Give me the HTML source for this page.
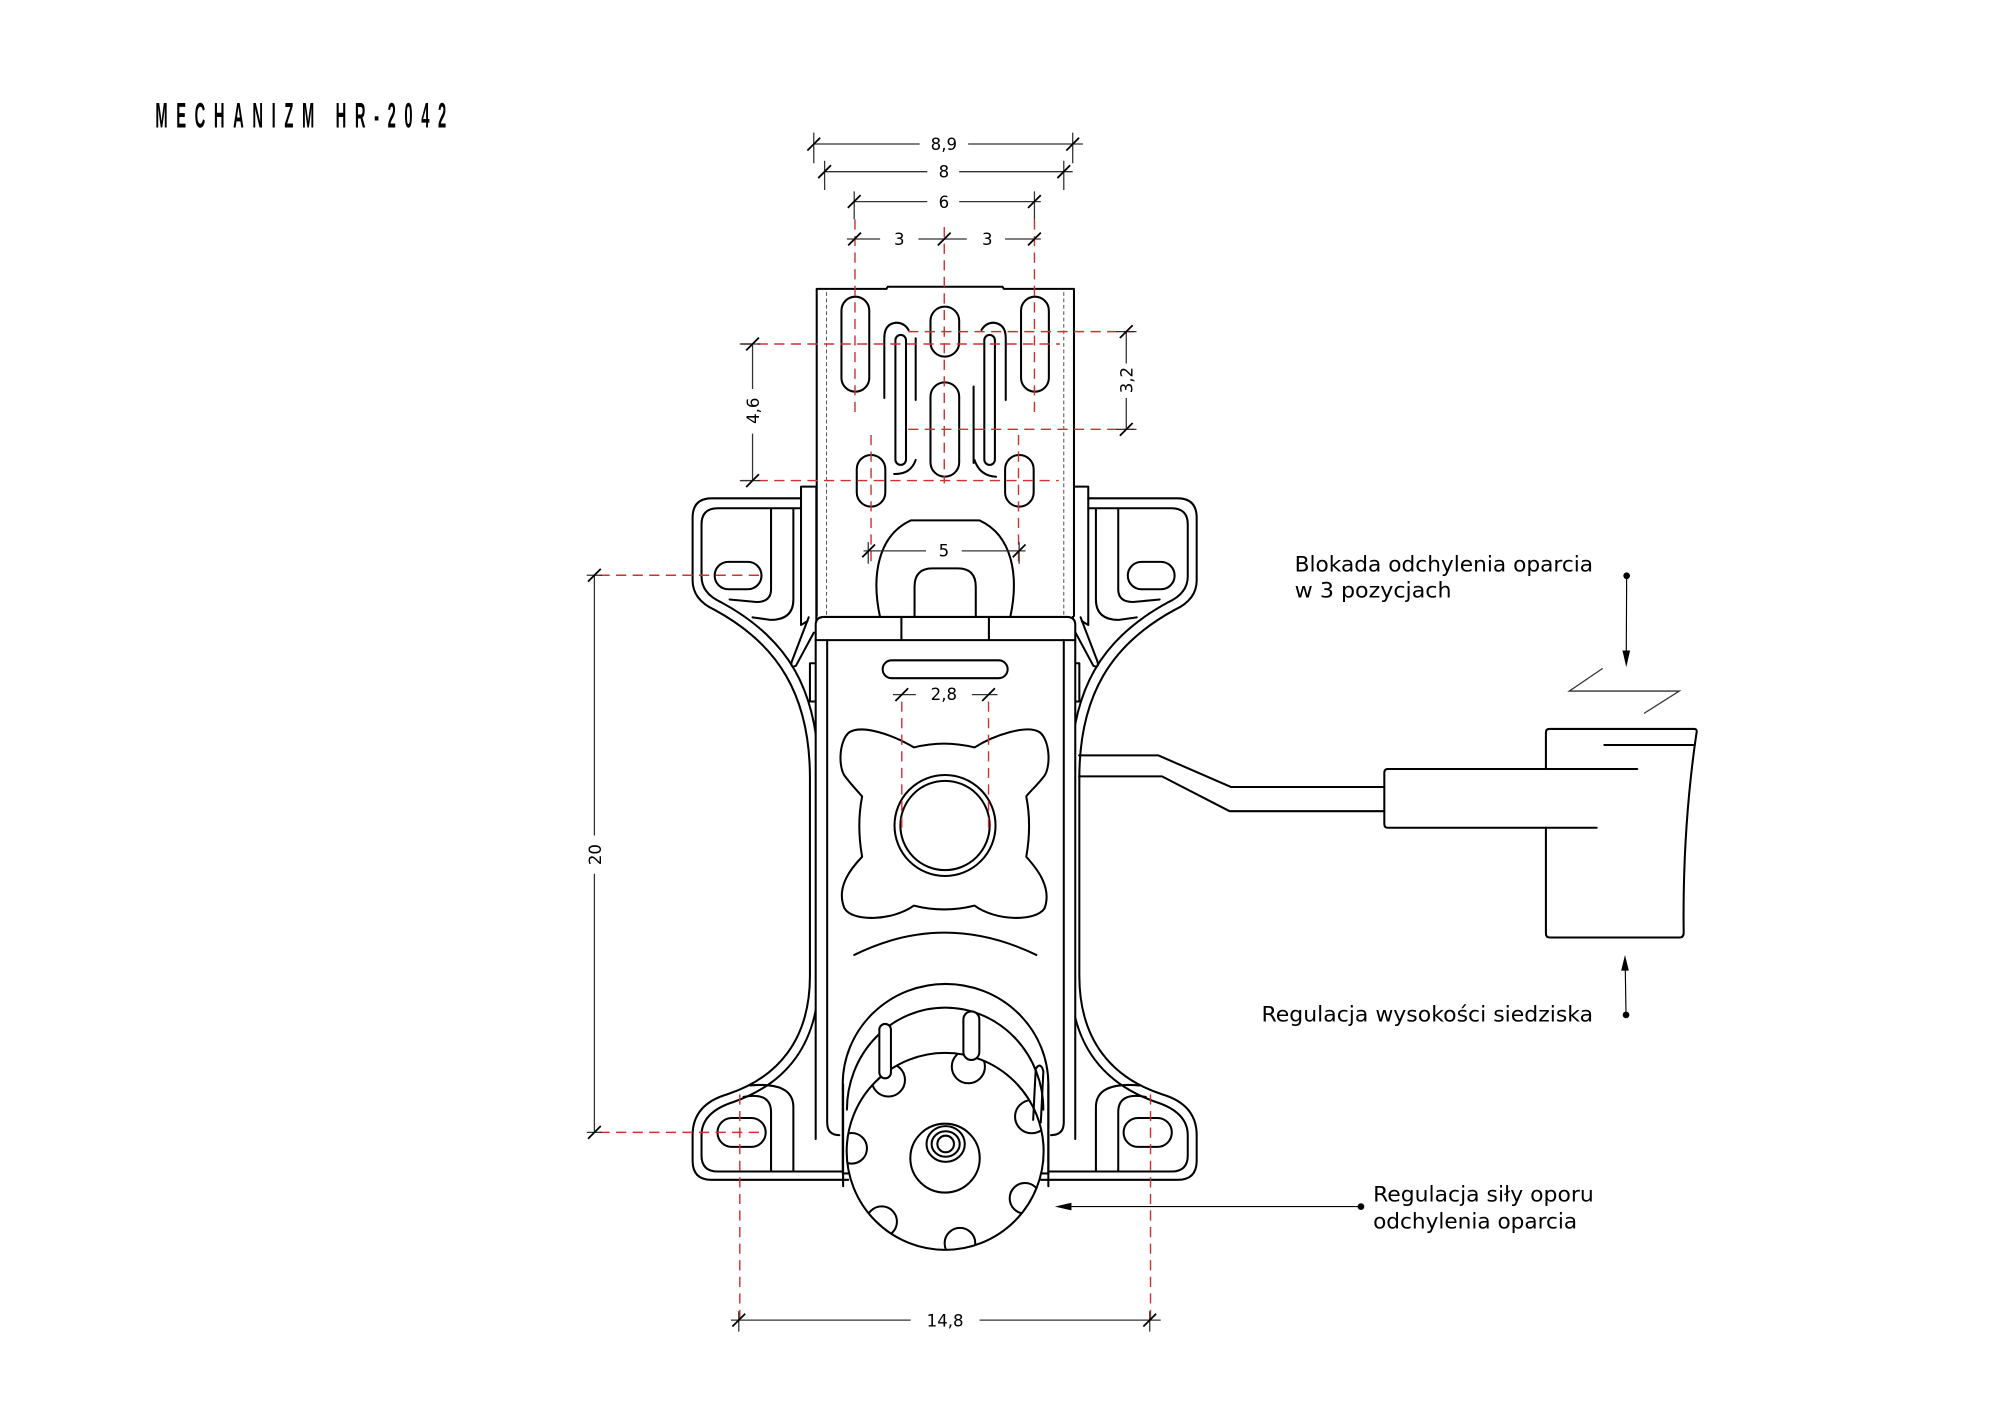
<!DOCTYPE html>
<html><head><meta charset="utf-8"><style>
html,body{margin:0;padding:0;background:#fff;}
svg{display:block;}
</style></head><body>
<svg xmlns="http://www.w3.org/2000/svg" width="2000" height="1414" viewBox="0 0 1568 1108.6" preserveAspectRatio="none">
<rect x="0" y="0" width="1568" height="1109" fill="#fff"/>

<text x="290" y="100" transform="scale(0.42,1)" font-family="Liberation Sans, sans-serif" font-size="27.5" font-weight="bold" textLength="543" lengthAdjust="spacing" fill="#000">MECHANIZM HR-2042</text>

<g fill="none" stroke="#000" stroke-width="1.6" stroke-linecap="round" stroke-linejoin="round">
  <g id="half">
    <path d="M 628 390.7 L 558 390.7 Q 543 390.7 543 406 L 543 455 Q 543 470 560 478 C 610 505 635 545 635 610 L 635 765 C 635 815 610 845 570 858 Q 543 866 543 890 L 543 910 Q 543 925 558 925 L 665 925"/>
    <path d="M 628 398.5 L 563 398.5 Q 550 398.5 550 411 L 550 452 Q 550 465 565 472 C 617 500 642 540 642 610 L 642 765 C 642 820 615 850 575 864 Q 550 872 550 890 L 550 906 Q 550 918.5 563 918.5 L 665 918.5"/>
    <path d="M 604.5 398.5 V 462 Q 604.5 472 593 472 L 572 470"/>
    <path d="M 622 398.5 V 470 Q 622 486 604 486 L 590 484"/>
    <rect x="560.3" y="440.5" width="36.7" height="21.5" rx="10.7"/>
    <path d="M 583 860 Q 604.5 856 604.5 872 V 918.5"/>
    <path d="M 588 851 Q 622 848 622 868 V 918.5"/>
    <rect x="562.5" y="876.5" width="37.8" height="22.7" rx="11.3"/>
    <path d="M 628 381.5 H 640 V 533 M 628 381.5 V 490 L 633 487"/>
    <path d="M 634 484 L 621 518 Q 619 524 624 522 L 638 496"/>
    <rect x="643" y="665" width="5" height="40"/>
    <rect x="635" y="520" width="5" height="30"/>
  </g>
  <use href="#half" transform="translate(1481.2,0) scale(-1,1)"/>

  <path d="M 640.3 483 V 226.5 H 695 L 696 224.8 H 786 L 787 226.5 H 842 V 483" fill="#fff"/>
</g>
<path d="M 648 229 V 483 M 834 229 V 483" stroke="#555" stroke-width="0.8" stroke-dasharray="3,2" fill="none"/>
<g fill="none" stroke="#000" stroke-width="1.6" stroke-linecap="round" stroke-linejoin="round">
  <rect x="659.7" y="232.6" width="21.8" height="74.5" rx="10.9"/>
  <rect x="800.5" y="232.6" width="21.8" height="74.5" rx="10.9"/>
  <rect x="729.5" y="240.4" width="22.5" height="39.2" rx="11.2"/>
  <rect x="729.5" y="299.8" width="22.5" height="73.9" rx="11.2"/>
  <rect x="671.7" y="356.7" width="22.4" height="40.5" rx="11.2"/>
  <rect x="788" y="356.7" width="22.4" height="40.5" rx="11.2"/>
  <rect x="702" y="262.6" width="8.3" height="101.9" rx="4.1"/>
  <path d="M 693.3 312 V 265 Q 693.3 254 702.5 253 Q 709 253 712.3 258.7"/>
  <path d="M 717.9 265.2 V 313.6"/>
  <path d="M 701 371.6 Q 714 372 717.9 360.6"/>
  <rect x="771.7" y="262.6" width="8.3" height="101.9" rx="4.1"/>
  <path d="M 788.5 313.6 V 265 Q 788.5 254 779 253 Q 773 253 769.5 258.7"/>
  <path d="M 763.3 303 V 363"/>
  <path d="M 764 360.6 Q 768 373 780.9 373.8"/>
  <path d="M 690 484 C 683 452 688 420 714 408 L 768 408 C 794 420 799 452 792 484" fill="#fff"/>
  <path d="M 717 484 V 460 Q 717 445.6 731 445.6 H 751 Q 765 445.6 765 460 V 484"/>

  <path d="M 639.5 893 V 490 Q 639.5 483.7 646 483.7 H 836.5 Q 843 483.7 843 490 V 893" fill="#fff"/>
  <path d="M 639.5 501.9 H 843 M 706.7 483.7 V 501.9 M 775.3 483.7 V 501.9"/>
  <path d="M 648.5 501.9 V 880 Q 648.5 890 658 890 M 834 501.9 V 880 Q 834 890 824 890"/>
  <rect x="692" y="517.7" width="98" height="14" rx="7"/>
  <path d="M 716.5 586 Q 740 580 764 586 C 780 576 805 568 815 574 C 823 580 824 600 819 608 C 813 616 806 622 804.6 624.4 Q 809 647 804.6 671.7 C 812 680 825 695 819 712 C 812 723 780 722 764 710 Q 740 716 716.5 710 C 700 722 668 723 662 712 C 655 695 668 680 675.9 671.7 Q 671.5 647 675.9 624.4 C 674 622 668 616 662 608 C 657 600 658 580 666 574 C 676 568 700 576 716.5 586 Z"/>
  <circle cx="740.9" cy="647.2" r="39.6"/>
  <circle cx="740.9" cy="647.2" r="35"/>
  <path d="M 669.7 748.7 Q 740.3 713.7 812.5 748.7"/>

  <path d="M 660.7 920 V 850 A 80 78 0 0 1 821.9 850 V 920 Z" fill="#fff"/>
  <path d="M 664 870 A 77 80 0 0 1 818 870"/>
  <circle cx="741" cy="902.7" r="77.2" fill="#fff"/>
  <rect x="689.4" y="802.8" width="9.1" height="42.6" rx="4.5" fill="#fff"/>
  <rect x="755.3" y="793" width="12.5" height="38" rx="6.2" fill="#fff"/>
  <path d="M 810 878 L 812 838 Q 816 832 818 840 L 816 880"/>
  <defs><clipPath id="kc"><circle cx="741" cy="902.7" r="77.2"/></clipPath></defs>
  <g clip-path="url(#kc)">
    <circle cx="696.5" cy="846.7" r="13"/>
    <circle cx="759.2" cy="836.3" r="13"/>
    <circle cx="808.8" cy="875.5" r="13"/>
    <circle cx="667.7" cy="900.3" r="12"/>
    <circle cx="803.6" cy="939.5" r="12"/>
    <circle cx="691.2" cy="957.8" r="12"/>
    <circle cx="752.6" cy="974.7" r="12"/>
  </g>
  <path d="M 661 850 V 930 M 821.9 850 V 930"/>
  <ellipse cx="740.9" cy="908" rx="27.2" ry="27"/>
  <ellipse cx="741.4" cy="896.9" rx="15" ry="14"/>
  <ellipse cx="741.4" cy="896.9" rx="11" ry="10"/>
  <circle cx="741.4" cy="896.9" r="6.5"/>

  <path d="M 846 592.2 H 908 L 965 617 H 1085.3 M 846 608.7 H 911 L 964 636 H 1085.3"/>
  <path d="M 1212 603 V 574 Q 1212 571.5 1215 571.5 H 1328 Q 1331 571.5 1330 575 Q 1319 650 1320 731 Q 1320 735 1317 735 H 1215 Q 1212 735 1212 732 V 649"/>
  <path d="M 1283.6 602.9 H 1088 Q 1085.3 602.9 1085.3 606 V 646 Q 1085.3 649 1088 649 H 1251.8"/>
  <path d="M 1257.8 584.1 H 1327.5"/>
</g>

<polyline points="1256.5,524 1230.3,541.8 1316.6,541.8 1288.9,559.3" fill="none" stroke="#333" stroke-width="1"/>

<g fill="none" stroke="#d03030" stroke-width="1.1" stroke-dasharray="8,5">
  <path d="M 670.3 172 V 324 M 740.3 178 V 379 M 811 172 V 324"/>
  <path d="M 682.9 341 V 442 M 798.5 341 V 442"/>
  <path d="M 712 260 H 891 M 581 269.7 H 831 M 712 336.6 H 891 M 581 376.8 H 830"/>
  <path d="M 707 550 V 650 M 775 550 V 650"/>
  <path d="M 470 451 H 600 M 470 887.8 H 600"/>
  <path d="M 580 858 V 1040 M 902 858 V 1040"/>
</g>

<g fill="none" stroke="#333" stroke-width="1">
  <path d="M 638 112.9 H 721 M 759 112.9 H 849 M 638 104 V 128 M 841 104 V 128"/>
  <path d="M 646.5 134.6 H 727 M 752 134.6 H 841 M 646.5 126 V 149 M 834 126 V 149"/>
  <path d="M 669.7 158.1 H 727 M 752 158.1 H 816 M 669.7 150 V 172 M 811 150 V 172"/>
  <path d="M 664 187.4 H 690 M 720 187.4 H 758 M 788 187.4 H 816"/>
  <path d="M 580 269.7 H 596 M 580 376.8 H 596 M 590 269.7 V 305 M 590 340 V 376.8"/>
  <path d="M 875 260 H 891 M 875 336.6 H 891 M 883 260 V 285 M 883 312 V 336.6"/>
  <path d="M 677 431.9 H 726 M 754 431.9 H 804 M 680.7 425 V 442 M 799 425 V 442"/>
  <path d="M 700 544.6 H 718 M 762 544.6 H 782"/>
  <path d="M 460 451 H 472 M 460 887.8 H 472 M 466 451 V 655 M 466 685 V 887.8"/>
  <path d="M 573 1035 H 714 M 768 1035 H 910 M 579.2 1028 V 1044 M 901.4 1028 V 1044"/>
</g>
<g fill="none" stroke="#000" stroke-width="1.4">
  <path d="M 633 118 L 643 108 M 836 118 L 846 108 M 641.5 139.6 L 651.5 129.6 M 829 139.6 L 839 129.6 M 664.7 163 L 674.7 153 M 806 163 L 816 153 M 665 192.4 L 675 182.4 M 735.3 192.4 L 745.3 182.4 M 806 192.4 L 816 182.4"/>
  <path d="M 585 274.7 L 595 264.7 M 585 381.8 L 595 371.8 M 878 265 L 888 255 M 878 341.6 L 888 331.6"/>
  <path d="M 676 436.9 L 686 426.9 M 794 436.9 L 804 426.9 M 702 549.6 L 712 539.6 M 770 549.6 L 780 539.6"/>
  <path d="M 461 456 L 471 446 M 461 892.8 L 471 882.8 M 574.2 1040 L 584.2 1030 M 896.4 1040 L 906.4 1030"/>
</g>
<g font-family="DejaVu Sans, Liberation Sans, sans-serif" font-size="13" fill="#000" text-anchor="middle">
  <text x="740" y="117.5">8,9</text>
  <text x="740" y="139">8</text>
  <text x="740" y="163">6</text>
  <text x="705" y="192">3</text>
  <text x="774" y="192">3</text>
  <text x="740" y="436.5">5</text>
  <text x="740" y="549">2,8</text>
  <text x="741" y="1040">14,8</text>
  <text transform="translate(595,322) rotate(-90)">4,6</text>
  <text transform="translate(888,298) rotate(-90)">3,2</text>
  <text transform="translate(471,670) rotate(-90)">20</text>
</g>

<g fill="#000" stroke="#000">
  <circle cx="1275.3" cy="451.4" r="2.6" stroke="none"/>
  <line x1="1275.3" y1="451.4" x2="1275" y2="512" stroke-width="0.9"/>
  <path d="M 1272 510 L 1275 523 L 1278 510 Z" stroke="none"/>
  <circle cx="1274.8" cy="795.7" r="2.6" stroke="none"/>
  <line x1="1274.8" y1="795.7" x2="1274.2" y2="758" stroke-width="0.9"/>
  <path d="M 1271 761 L 1274 748.7 L 1277 761 Z" stroke="none"/>
  <circle cx="1067" cy="946" r="2.6" stroke="none"/>
  <line x1="1067" y1="946" x2="838" y2="946" stroke-width="0.9"/>
  <path d="M 840 943 L 827 946 L 840 949 Z" stroke="none"/>
</g>
<g font-family="DejaVu Sans, Liberation Sans, sans-serif" font-size="17" fill="#000">
  <text x="1015" y="448" textLength="234" lengthAdjust="spacingAndGlyphs">Blokada odchylenia oparcia</text>
  <text x="1015" y="468.5" textLength="123" lengthAdjust="spacingAndGlyphs">w 3 pozycjach</text>
  <text x="989" y="801" textLength="260" lengthAdjust="spacingAndGlyphs">Regulacja wysokości siedziska</text>
  <text x="1076.5" y="942" textLength="173" lengthAdjust="spacingAndGlyphs">Regulacja siły oporu</text>
  <text x="1076.5" y="963" textLength="160" lengthAdjust="spacingAndGlyphs">odchylenia oparcia</text>
</g>
</svg>
</body></html>
